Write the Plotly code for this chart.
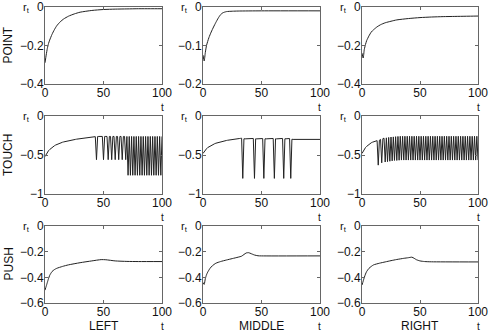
import plotly.graph_objects as go

# ---------------- data ----------------
ROW_LABELS = ["POINT", "TOUCH", "PUSH"]
COL_LABELS = ["LEFT", "MIDDLE", "RIGHT"]
X_TICKS = [0, 50, 100]
X_TICKTEXT = ["0", "50", "100"]

Y_TICKS_POINT_LR = [0, -0.2, -0.4]
Y_TICKTEXT_POINT_LR = ["0", "\u22120.2", "\u22120.4"]
Y_TICKS_POINT_M = [0, -0.1, -0.2]
Y_TICKTEXT_POINT_M = ["0", "\u22120.1", "\u22120.2"]
Y_TICKS_TOUCH = [0, -0.5, -1]
Y_TICKTEXT_TOUCH = ["0", "\u22120.5", "\u22121"]
Y_TICKS_PUSH = [0, -0.2, -0.4, -0.6]
Y_TICKTEXT_PUSH = ["0", "\u22120.2", "\u22120.4", "\u22120.6"]

POINT_LEFT_T = [0, 1, 2, 3, 4, 6, 8, 10, 13, 16, 20, 25, 30, 40, 50, 60, 70, 80, 90, 100]
POINT_LEFT_R = [-0.29, -0.25, -0.215, -0.19, -0.172, -0.142, -0.118, -0.098, -0.077, -0.062,
                -0.048, -0.036, -0.027, -0.018, -0.013, -0.011, -0.010, -0.009, -0.009, -0.009]

POINT_MIDDLE_T = [0, 1, 2, 3, 5, 7, 9, 11, 13, 15, 17, 20, 25, 30, 50, 100]
POINT_MIDDLE_R = [-0.125, -0.14, -0.118, -0.10, -0.08, -0.065, -0.052, -0.04, -0.029, -0.02,
                  -0.015, -0.012, -0.011, -0.0105, -0.010, -0.010]

POINT_RIGHT_T = [0, 1, 2, 3, 4, 6, 8, 10, 13, 16, 20, 25, 30, 40, 50, 60, 70, 80, 90, 100]
POINT_RIGHT_R = [-0.24, -0.265, -0.22, -0.195, -0.175, -0.15, -0.13, -0.118, -0.103, -0.092,
                 -0.082, -0.074, -0.067, -0.06, -0.055, -0.052, -0.05, -0.049, -0.048, -0.047]

TOUCH_T = list(range(0, 101))
TOUCH_LEFT_R = [
    -0.52, -0.49, -0.465, -0.445, -0.43, -0.415, -0.403, -0.392, -0.382, -0.373,
    -0.365, -0.358, -0.352, -0.346, -0.341, -0.336, -0.332, -0.328, -0.324, -0.320,
    -0.317, -0.314, -0.311, -0.308, -0.305, -0.302, -0.300, -0.297, -0.295, -0.293,
    -0.291, -0.289, -0.287, -0.285, -0.283, -0.281, -0.279, -0.277, -0.275, -0.273,
    -0.271, -0.269, -0.267, -0.265, -0.56, -0.263, -0.262, -0.262, -0.262, -0.262,
    -0.56, -0.262, -0.262, -0.262, -0.56, -0.262, -0.262, -0.56, -0.262, -0.262,
    -0.56, -0.262, -0.262, -0.56, -0.262, -0.262, -0.56, -0.262, -0.262, -0.56,
    -0.262, -0.76, -0.262, -0.76, -0.262, -0.76, -0.262, -0.76, -0.262, -0.76,
    -0.262, -0.76, -0.262, -0.76, -0.262, -0.76, -0.262, -0.76, -0.262, -0.76,
    -0.262, -0.76, -0.262, -0.76, -0.262, -0.76, -0.262, -0.76, -0.262, -0.76,
    -0.262]
TOUCH_MIDDLE_R = [
    -0.48, -0.455, -0.435, -0.42, -0.405, -0.395, -0.385, -0.376, -0.368, -0.361,
    -0.355, -0.349, -0.344, -0.339, -0.335, -0.331, -0.327, -0.323, -0.320, -0.317,
    -0.314, -0.311, -0.308, -0.306, -0.303, -0.301, -0.299, -0.297, -0.295, -0.293,
    -0.291, -0.289, -0.287, -0.285, -0.80, -0.292, -0.293, -0.293, -0.293, -0.292,
    -0.291, -0.290, -0.289, -0.288, -0.80, -0.292, -0.293, -0.293, -0.292, -0.291,
    -0.290, -0.289, -0.80, -0.292, -0.293, -0.292, -0.291, -0.290, -0.289, -0.288,
    -0.288, -0.80, -0.292, -0.293, -0.292, -0.291, -0.290, -0.289, -0.288, -0.80,
    -0.292, -0.292, -0.291, -0.290, -0.289, -0.80, -0.298, -0.300, -0.300, -0.300,
    -0.300, -0.300, -0.300, -0.300, -0.300, -0.300, -0.300, -0.300, -0.300, -0.300,
    -0.300, -0.300, -0.300, -0.300, -0.300, -0.300, -0.300, -0.300, -0.300, -0.300,
    -0.300]
TOUCH_RIGHT_R = [
    -0.48, -0.45, -0.425, -0.405, -0.39, -0.375, -0.362, -0.352, -0.343, -0.336,
    -0.33, -0.325, -0.32, -0.316, -0.63, -0.31, -0.30, -0.60, -0.29, -0.285,
    -0.59, -0.28, -0.585, -0.275, -0.58, -0.27, -0.575, -0.268, -0.57, -0.265,
    -0.57, -0.262, -0.567, -0.26, -0.565, -0.26, -0.565, -0.26, -0.565, -0.26,
    -0.565, -0.26, -0.565, -0.26, -0.565, -0.26, -0.565, -0.26, -0.565, -0.26,
    -0.565, -0.26, -0.565, -0.26, -0.565, -0.26, -0.565, -0.26, -0.565, -0.26,
    -0.565, -0.26, -0.565, -0.26, -0.565, -0.26, -0.565, -0.26, -0.565, -0.26,
    -0.565, -0.26, -0.565, -0.26, -0.565, -0.26, -0.565, -0.26, -0.565, -0.26,
    -0.565, -0.26, -0.565, -0.26, -0.565, -0.26, -0.565, -0.26, -0.565, -0.26,
    -0.565, -0.26, -0.565, -0.26, -0.565, -0.26, -0.565, -0.26, -0.565, -0.26,
    -0.565]

PUSH_LEFT_T = [0, 1, 2, 3, 4, 6, 8, 10, 15, 20, 30, 40, 48, 52, 60, 70, 80, 100]
PUSH_LEFT_R = [-0.50, -0.47, -0.44, -0.41, -0.385, -0.355, -0.34, -0.33, -0.315, -0.303,
               -0.286, -0.272, -0.262, -0.263, -0.272, -0.276, -0.277, -0.277]

PUSH_MIDDLE_T = [0, 1, 2, 3, 4, 6, 8, 11, 15, 20, 25, 30, 33, 35, 37, 39, 41, 44, 47, 50, 100]
PUSH_MIDDLE_R = [-0.44, -0.455, -0.41, -0.38, -0.36, -0.33, -0.31, -0.29, -0.277, -0.265,
                 -0.254, -0.243, -0.235, -0.222, -0.21, -0.208, -0.215, -0.226, -0.232, -0.233, -0.233]

PUSH_RIGHT_T = [0, 1, 2, 3, 4, 6, 8, 10, 15, 20, 25, 30, 36, 40, 43, 45, 47, 50, 54, 60, 100]
PUSH_RIGHT_R = [-0.46, -0.43, -0.40, -0.375, -0.355, -0.33, -0.315, -0.303, -0.29, -0.28,
                -0.27, -0.261, -0.252, -0.247, -0.243, -0.252, -0.263, -0.272, -0.277, -0.279, -0.28]

# ---------------- figure ----------------
W, H = 490, 336
COL_PX = [(45, 162), (203, 320), (362, 478)]
ROW_PX = [(7, 84), (116, 194), (226, 303)]
FONT = "Liberation Sans, Arial, Helvetica, sans-serif"

panels = [
    (0, 0, POINT_LEFT_T, POINT_LEFT_R, [-0.4, 0], Y_TICKS_POINT_LR, Y_TICKTEXT_POINT_LR, True),
    (0, 1, POINT_MIDDLE_T, POINT_MIDDLE_R, [-0.2, 0], Y_TICKS_POINT_M, Y_TICKTEXT_POINT_M, True),
    (0, 2, POINT_RIGHT_T, POINT_RIGHT_R, [-0.4, 0], Y_TICKS_POINT_LR, Y_TICKTEXT_POINT_LR, True),
    (1, 0, TOUCH_T, TOUCH_LEFT_R, [-1, 0], Y_TICKS_TOUCH, Y_TICKTEXT_TOUCH, False),
    (1, 1, TOUCH_T, TOUCH_MIDDLE_R, [-1, 0], Y_TICKS_TOUCH, Y_TICKTEXT_TOUCH, False),
    (1, 2, TOUCH_T, TOUCH_RIGHT_R, [-1, 0], Y_TICKS_TOUCH, Y_TICKTEXT_TOUCH, False),
    (2, 0, PUSH_LEFT_T, PUSH_LEFT_R, [-0.6, 0], Y_TICKS_PUSH, Y_TICKTEXT_PUSH, True),
    (2, 1, PUSH_MIDDLE_T, PUSH_MIDDLE_R, [-0.6, 0], Y_TICKS_PUSH, Y_TICKTEXT_PUSH, True),
    (2, 2, PUSH_RIGHT_T, PUSH_RIGHT_R, [-0.6, 0], Y_TICKS_PUSH, Y_TICKTEXT_PUSH, True),
]

fig = go.Figure()
layout = dict(
    width=W, height=H,
    margin=dict(l=0, r=0, t=0, b=0, autoexpand=False),
    paper_bgcolor="white", plot_bgcolor="white",
    showlegend=False,
    font=dict(family=FONT, size=12, color="#111"),
)
annotations = []

axis_common = dict(
    showline=True, linecolor="#666", linewidth=1, mirror="ticks",
    ticks="inside", ticklen=3, tickcolor="#666", tickwidth=1,
    showgrid=False, zeroline=False, fixedrange=True, automargin=False,
    ticklabeloverflow="allow",
    tickfont=dict(family=FONT, size=12, color="#111"),
)

for i, (r, c, t, vals, yr, ytv, ytt, spline) in enumerate(panels):
    n = i + 1
    xs = "x" if n == 1 else f"x{n}"
    ys = "y" if n == 1 else f"y{n}"
    line = dict(color="#222", width=1)
    if spline:
        line["shape"] = "spline"
        line["smoothing"] = 0.6
    fig.add_trace(go.Scatter(x=t, y=vals, mode="lines", line=line,
                             xaxis=xs, yaxis=ys, hoverinfo="skip"))
    x0, x1 = COL_PX[c]
    y0, y1 = ROW_PX[r]
    layout[f"xaxis{'' if n == 1 else n}"] = dict(
        axis_common, domain=[x0 / W, x1 / W], range=[0, 100],
        tickvals=X_TICKS, ticktext=X_TICKTEXT, anchor=ys, ticklabelstandoff=-2)
    layout[f"yaxis{'' if n == 1 else n}"] = dict(
        axis_common, domain=[1 - y1 / H, 1 - y0 / H], range=yr,
        tickvals=ytv, ticktext=ytt, anchor=xs, ticklabelstandoff=-2)
    annotations.append(dict(
        text="r<sub>t</sub>", xref=f"{xs} domain", yref=f"{ys} domain",
        x=0, y=1, xanchor="right", yanchor="middle", xshift=-13, yshift=-1,
        showarrow=False, font=dict(family=FONT, size=11, color="#111")))
    annotations.append(dict(
        text="t", xref=f"{xs} domain", yref=f"{ys} domain",
        x=1, y=0, xanchor="center", yanchor="top", yshift=-16,
        showarrow=False, font=dict(family=FONT, size=10, color="#111")))

for r, lab in enumerate(ROW_LABELS):
    y0, y1 = ROW_PX[r]
    annotations.append(dict(
        text=lab, xref="paper", yref="paper", x=8 / W, y=1 - (y0 + y1) / 2 / H,
        xanchor="center", yanchor="middle", textangle=-90, showarrow=False,
        font=dict(family=FONT, size=12, color="#111")))

for c, lab in enumerate(COL_LABELS):
    x0, x1 = COL_PX[c]
    annotations.append(dict(
        text=lab, xref="paper", yref="paper", x=(x0 + x1) / 2 / W, y=1 - 326 / H,
        xanchor="center", yanchor="middle", showarrow=False,
        font=dict(family=FONT, size=12, color="#111")))

layout["annotations"] = annotations
fig.update_layout(**layout)
fig.write_html(
    "out.html",
    config={"displayModeBar": False},
    post_script="document.body.style.margin='0';document.body.style.overflow='hidden';",
)
